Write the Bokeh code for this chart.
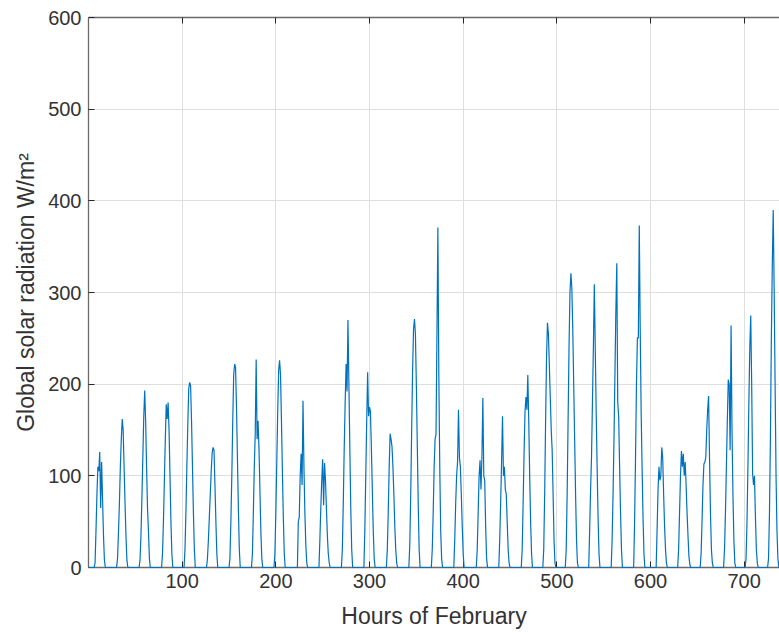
import numpy as np
from bokeh.plotting import figure
from bokeh.models import Range1d, LinearAxis, FixedTicker, ColumnDataSource
from bokeh.embed import file_html
from bokeh.resources import INLINE

# ---- data: hourly global solar radiation (W/m^2), values for hours 5..19 of each day ----
first_hour = 5
day01 = [0, 0, 5, 40, 80, 110, 105, 126, 65, 115, 75, 35, 8, 0, 0]
day02 = [0, 0, 10, 38, 70, 110, 140, 162, 150, 110, 70, 35, 8, 0, 0]
day03 = [0, 0, 8, 35, 75, 120, 165, 193, 160, 110, 65, 40, 10, 0, 0]
day04 = [0, 0, 15, 50, 95, 140, 178, 162, 180, 150, 100, 50, 15, 0, 0]
day05 = [0, 0, 20, 60, 110, 155, 195, 202, 198, 160, 110, 60, 20, 0, 0]
day06 = [0, 0, 10, 30, 55, 80, 105, 125, 131, 128, 90, 50, 15, 0, 0]
day07 = [0, 0, 10, 50, 100, 160, 210, 222, 218, 175, 120, 65, 20, 0, 0]
day08 = [0, 0, 15, 60, 110, 146, 227, 140, 160, 130, 85, 40, 10, 0, 0]
day09 = [0, 0, 15, 60, 115, 170, 215, 226, 210, 160, 105, 55, 15, 0, 0]
day10 = [0, 0, 0, 50, 55, 100, 124, 90, 182, 110, 60, 25, 5, 0, 0]
day11 = [0, 0, 30, 65, 95, 118, 68, 114, 95, 65, 35, 15, 5, 0, 0]
day12 = [0, 0, 20, 70, 130, 180, 222, 192, 270, 200, 130, 65, 20, 0, 0]
day13 = [0, 0, 40, 100, 160, 213, 165, 175, 170, 130, 85, 40, 10, 0, 0]
day14 = [0, 0, 20, 60, 110, 146, 140, 132, 110, 80, 45, 20, 5, 0, 0]
day15 = [0, 0, 25, 80, 150, 215, 260, 271, 255, 200, 135, 70, 20, 0, 0]
day16 = [0, 0, 20, 60, 110, 140, 145, 255, 371, 210, 110, 40, 10, 0, 0]
day17 = [0, 0, 30, 70, 100, 115, 172, 120, 110, 80, 45, 15, 0, 0, 0]
day18 = [0, 0, 20, 60, 100, 117, 85, 120, 185, 100, 95, 45, 10, 0, 0]
day19 = [0, 0, 30, 70, 115, 165, 100, 110, 85, 80, 50, 20, 5, 0, 0]
day20 = [0, 0, 20, 70, 125, 170, 186, 172, 210, 160, 100, 50, 15, 0, 0]
day21 = [0, 20, 80, 160, 230, 267, 255, 220, 185, 150, 128, 80, 30, 5, 0]
day22 = [0, 20, 80, 160, 240, 300, 321, 305, 260, 200, 140, 80, 30, 5, 0]
day23 = [0, 0, 40, 84, 120, 180, 240, 309, 240, 170, 110, 55, 15, 0, 0]
day24 = [0, 0, 30, 80, 140, 210, 280, 332, 180, 165, 110, 60, 20, 0, 0]
day25 = [0, 0, 50, 120, 200, 251, 250, 373, 260, 170, 110, 55, 15, 0, 0]
day26 = [0, 0, 40, 84, 110, 95, 100, 131, 120, 80, 45, 20, 5, 0, 0]
day27 = [0, 20, 60, 100, 127, 110, 124, 100, 115, 90, 60, 35, 12, 3, 0]
day28 = [0, 15, 50, 90, 113, 115, 120, 150, 172, 187, 120, 60, 20, 5, 0]
day29 = [0, 0, 20, 60, 110, 160, 205, 200, 128, 264, 150, 80, 30, 5, 0]
day30 = [0, 10, 50, 110, 180, 240, 275, 200, 102, 90, 100, 55, 20, 5, 0]
day31 = [0, 10, 60, 141, 250, 330, 390, 303, 200, 100, 40, 10, 0, 0, 0]

days = [day01, day02, day03, day04, day05, day06, day07, day08, day09, day10,
        day11, day12, day13, day14, day15, day16, day17, day18, day19, day20,
        day21, day22, day23, day24, day25, day26, day27, day28, day29, day30, day31]

x_ticks = [100, 200, 300, 400, 500, 600, 700]
y_ticks = [0, 100, 200, 300, 400, 500, 600]

hours = np.arange(24 * len(days))
radiation = np.zeros(len(hours))
for d, prof in enumerate(days):
    s = 24 * d + first_hour
    radiation[s:s + len(prof)] = prof

src = ColumnDataSource(dict(x=hours, y=radiation))

FONT = "Liberation Sans"
TXT = "#333333"
AX = "#6a6a6a"

p = figure(width=779, height=633, output_backend="svg", toolbar_location=None,
           x_range=Range1d(0, 737.7), y_range=Range1d(0, 600),
           min_border_left=88, min_border_right=0, min_border_top=17, min_border_bottom=66,
           background_fill_color="white", border_fill_color="white")
p.outline_line_color = None

p.line("x", "y", source=src, line_color="#0072BD", line_width=1.2, level="overlay")

for ax in (p.xaxis[0], p.yaxis[0]):
    ax.major_tick_in = 6
    ax.major_tick_out = 0
    ax.minor_tick_in = 0
    ax.minor_tick_out = 0
    ax.major_tick_line_color = "#262626"
    ax.axis_line_color = AX
    ax.axis_line_width = 1.3
    ax.major_label_text_font = FONT
    ax.major_label_text_font_size = "20px"
    ax.major_label_text_color = TXT
    ax.axis_label_text_font = FONT
    ax.axis_label_text_font_size = "23px"
    ax.axis_label_text_font_style = "normal"
    ax.axis_label_text_color = TXT

p.xaxis[0].ticker = FixedTicker(ticks=x_ticks)
p.yaxis[0].ticker = FixedTicker(ticks=y_ticks)
p.xaxis[0].axis_label = "Hours of February"
p.yaxis[0].axis_label = "Global solar radiation W/m²"
p.xaxis[0].major_label_standoff = 6
p.yaxis[0].major_label_standoff = 7
p.xaxis[0].axis_label_standoff = 12
p.yaxis[0].axis_label_standoff = 6

top = LinearAxis(ticker=FixedTicker(ticks=x_ticks))
top.major_tick_in = 6
top.major_tick_out = 0
top.minor_tick_in = 0
top.minor_tick_out = 0
top.major_tick_line_color = "#262626"
top.axis_line_color = AX
top.axis_line_width = 1.3
top.major_label_text_font_size = "0px"
top.major_label_text_color = None
top.major_label_standoff = 0
p.add_layout(top, "above")

p.xgrid.ticker = FixedTicker(ticks=x_ticks)
p.ygrid.ticker = FixedTicker(ticks=y_ticks)
p.xgrid.grid_line_color = "#dedede"
p.ygrid.grid_line_color = "#dedede"

open("out.html", "w").write(file_html(p, INLINE))
